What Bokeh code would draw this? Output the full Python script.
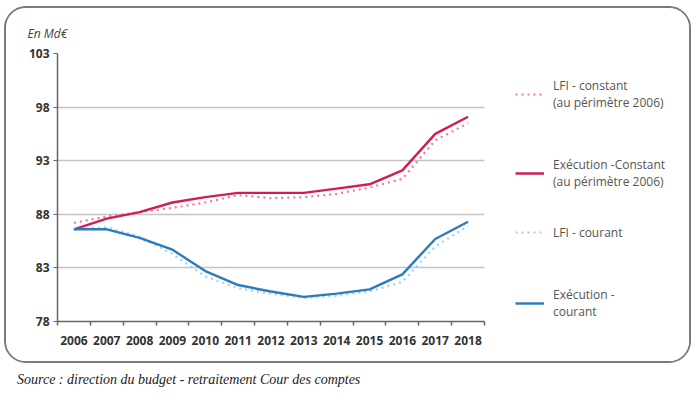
from bokeh.plotting import figure
from bokeh.models import (Range1d, FixedTicker, Legend, LegendItem, Title, Div)
from bokeh.layouts import column
from bokeh.embed import file_html
from bokeh.resources import INLINE

years = list(range(2006, 2019))
lfi_constant = [87.2, 87.8, 88.2, 88.6, 89.1, 89.8, 89.5, 89.6, 89.9, 90.5, 91.3, 94.9, 96.5]
exec_constant = [86.6, 87.6, 88.2, 89.1, 89.6, 90.0, 90.0, 90.0, 90.4, 90.8, 92.1, 95.5, 97.1]
lfi_courant = [86.6, 86.8, 85.9, 84.3, 82.2, 81.1, 80.6, 80.2, 80.4, 80.8, 81.7, 85.0, 86.9]
exec_courant = [86.6, 86.6, 85.8, 84.7, 82.7, 81.4, 80.8, 80.3, 80.6, 81.0, 82.4, 85.7, 87.3]
y_ticks = [78, 83, 88, 93, 98, 103]
labels = ["LFI - constant\n(au périmètre 2006)", "Exécution -Constant\n(au périmètre 2006)",
          "LFI - courant", "Exécution -\ncourant"]

W, H = 687, 357
L, T, B, R = 51, 45, 44, 2
plot_px = 427  # pixel width of the 13 year slots
x0 = years[0] - 0.5
x1 = years[-1] + 0.5
x_end = x0 + (x1 - x0) * (W - L - R) / plot_px

p = figure(width=W, height=H, output_backend="svg", toolbar_location=None,
           x_range=Range1d(x0, x_end), y_range=Range1d(78, 103),
           min_border_left=L, min_border_top=T, min_border_bottom=B, min_border_right=R)
p.styles = {"border": "2px solid #7a7a7a", "border-radius": "22px", "overflow": "hidden",
            "margin-left": "4px", "margin-top": "6px"}
p.outline_line_color = None
p.background_fill_color = "white"
p.border_fill_color = "white"

p.xgrid.grid_line_color = None
p.ygrid.grid_line_color = "#c4c4c4"
p.ygrid.grid_line_width = 1.5
p.ygrid.ticker = FixedTicker(ticks=y_ticks)
p.ygrid.cross_bounds = (x0, x1)

p.yaxis.ticker = FixedTicker(ticks=y_ticks)
p.xaxis.ticker = FixedTicker(ticks=years, minor_ticks=[y - 0.5 for y in years] + [x1])
p.xaxis.bounds = (x0, x1)

for ax in (p.xaxis, p.yaxis):
    ax.axis_line_color = "#666666"
    ax.axis_line_width = 1.5
    ax.major_label_text_font = "Open Sans"
    ax.major_label_text_font_style = "bold"
    ax.major_label_text_font_size = "12px"
    ax.major_label_text_color = "#333333"
p.yaxis.major_tick_line_color = "#666666"
p.yaxis.major_tick_out = 4
p.yaxis.major_tick_in = 0
p.yaxis.minor_tick_line_color = None
p.yaxis.major_label_standoff = 4
p.xaxis.major_tick_line_color = None
p.xaxis.minor_tick_line_color = "#666666"
p.xaxis.minor_tick_out = 4
p.xaxis.minor_tick_in = 0
p.xaxis.minor_tick_line_width = 1.5
p.xaxis.major_label_standoff = 8

r1 = p.line(years, lfi_constant, line_color="#ec7f7f", line_width=2.2, line_dash="2 4")
r2 = p.line(years, exec_constant, line_color="#d01c5b", line_width=2.4)
r3 = p.line(years, lfi_courant, line_color="#a3cdee", line_width=2.2, line_dash="2 4")
r4 = p.line(years, exec_courant, line_color="#2a7cbb", line_width=2.4)

legend_pos = [(458, 210), (458, 131), (458, 79), (458, 1)]
for lab, r, loc in zip(labels, [r1, r2, r3, r4], legend_pos):
    lg = Legend(items=[LegendItem(label=lab, renderers=[r])], location=loc)
    lg.background_fill_alpha = 0
    lg.border_line_color = None
    lg.label_text_font = "Open Sans"
    lg.label_text_font_size = "12px"
    lg.label_text_color = "#555555"
    lg.label_text_line_height = 1.35
    lg.label_height = 16
    lg.glyph_width = 29
    lg.label_standoff = 9
    lg.padding = 0
    lg.margin = 0
    p.add_layout(lg, "center")

p.title = Title(text="En Md€", align="left", offset=-30, standoff=24,
                text_font="Open Sans", text_font_style="italic",
                text_font_size="12px", text_color="#444444")

src = Div(text="Source : direction du budget - retraitement Cour des comptes",
          styles={"font-family": "Liberation Serif", "font-style": "italic",
                  "font-size": "14px", "color": "#222222",
                  "margin-left": "17px", "margin-top": "7px"})

layout = column(p, src)
open("out.html", "w").write(file_html(layout, INLINE))
